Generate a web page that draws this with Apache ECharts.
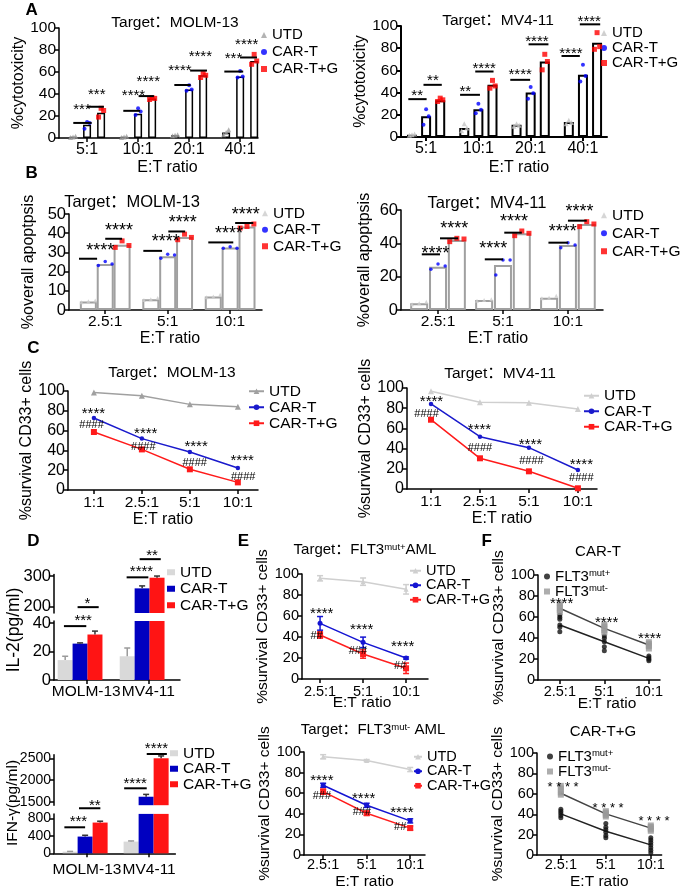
<!DOCTYPE html>
<html><head><meta charset="utf-8">
<script src="https://cdn.jsdelivr.net/npm/echarts@6/dist/echarts.min.js"></script>
<style>html,body{margin:0;padding:0;background:#fff}#c{width:685px;height:890px}</style>
</head><body><div id="c"></div>
<script>
// ================= DATA =================
// Panel A : %cytotoxicity
const A_cats = ['5:1', '10:1', '20:1', '40:1'];
const A1_UTD_mean = [1, 1, 2.5, 5];
const A1_CART_mean = [12, 22, 44, 56];
const A1_CARTG_mean = [23, 36, 57, 70];
const A1_UTD_pts = [[0.5, 1, 1.5], [0.5, 1, 1.5], [2, 2.5, 3], [3, 5, 7.5]];
const A1_CART_pts = [[8.5, 14.6, 13.7], [21, 27, 24], [43, 48, 44], [55, 61, 56]];
const A1_CARTG_pts = [[19, 27, 25], [35, 36.5, 36], [55, 59.5, 57], [67, 76, 70]];
const A1_sig = [
  [-0.27, 0.09, 13.7, -0.10, 29, '***'], [0.0, 0.33, 28.4, 0.19, 43, '***'],
  [0.71, 1.04, 24.7, 0.91, 42, '****'], [1.01, 1.31, 38.1, 1.20, 54.9, '****'],
  [1.71, 2.03, 48.2, 1.82, 64.3, '****'], [2.02, 2.35, 61.3, 2.22, 77.1, '****'],
  [2.69, 3.06, 60.4, 2.87, 75.6, '***'], [3.0, 3.33, 73.2, 3.13, 87.8, '****']];
const A2_UTD_mean = [2, 8, 11, 13.5];
const A2_CART_mean = [18.6, 25, 40, 56];
const A2_CARTG_mean = [33, 47, 68, 85];
const A2_UTD_pts = [[1.5, 2, 2.7], [5.7, 12, 8], [9.6, 12, 10.5], [12, 15, 13]];
const A2_CART_pts = [[11, 25, 18.6], [21.5, 30, 24.5], [34.4, 45, 39.5], [50, 65, 55]];
const A2_CARTG_pts = [[32, 35, 33.5], [44, 51, 46], [60.5, 74.5, 68], [79, 94, 81.4]];
const A2_sig = [
  [-0.34, 0.01, 34.1, -0.17, 40.1, '**'], [-0.05, 0.30, 47, 0.13, 53.9, '**'],
  [0.65, 1.03, 38, 0.75, 44, '**'], [0.94, 1.29, 59, 1.11, 65, '****'],
  [1.61, 1.99, 51.5, 1.80, 59, '****'], [1.96, 2.34, 83.5, 2.12, 88.9, '****'],
  [2.59, 2.94, 73, 2.77, 78.4, '****'], [2.94, 3.33, 101.5, 3.12, 106.9, '****']];

// Panel B : %overall apoptosis
const B_cats = ['2.5:1', '5:1', '10:1'];
const B1_UTD_mean = [4.4, 5.6, 7];
const B1_CART_mean = [24, 28, 32.5];
const B1_CARTG_mean = [34, 38, 43.5];
const B1_UTD_pts = [[4, 4.5, 5], [5.2, 5.6, 6.2], [6.6, 7, 8]];
const B1_CART_pts = [[23.2, 25.3, 24], [27, 29, 28.7], [32.2, 33, 32.2]];
const B1_CARTG_pts = [[32.6, 36, 33.6], [36.6, 39.5, 37.8], [42.7, 43.5, 44.8]];
const B1_sig = [
  [-0.42, -0.13, 26.7, -0.08, 33.1, '****'], [0, 0.27, 37.1, 0.22, 43.6, '****'],
  [0.61, 0.91, 30.8, 0.97, 37.5, '****'], [1.01, 1.28, 40.9, 1.24, 47.6, '****'],
  [1.65, 2.05, 35.2, 1.98, 41.8, '****'], [2.08, 2.37, 45.3, 2.25, 51.9, '****']];
const B2_UTD_mean = [4, 6, 7.4];
const B2_CART_mean = [26, 27, 39];
const B2_CARTG_mean = [42, 46, 51.6];
const B2_UTD_pts = [[3.5, 4, 5], [5.5, 6, 6.5], [7, 7.4, 8.5]];
const B2_CART_pts = [[24.4, 27.6, 26.4], [21, 30, 30], [37.4, 40.4, 39]];
const B2_CARTG_pts = [[41, 43, 42.6], [44.6, 47.4, 46], [50, 53, 51.6]];
const B2_sig = [
  [-0.25, 0.03, 33.4, -0.04, 36, '****'], [0.03, 0.31, 43, 0.25, 51.4, '****'],
  [0.72, 1.0, 30.4, 0.85, 39, '****'], [1.02, 1.29, 46.4, 1.17, 55.6, '****'],
  [1.70, 2.0, 40.4, 1.92, 49.4, '****'], [2.0, 2.29, 53.6, 2.18, 61.4, '****']];

// Panel C : %survival CD33+ cells
const C_cats = ['1:1', '2.5:1', '5:1', '10:1'];
const C1_UTD = [98.5, 95.3, 86.5, 84.2];
const C1_CART = [72.7, 51.9, 38.4, 22.2];
const C1_CARTG = [58.6, 41, 20.9, 7.7];
const C1_anno = [[-0.01, 80.8, '****'], [1.08, 60.6, '****'], [2.13, 47.1, '****'], [3.09, 33.7, '****'],
  [-0.05, 65.7, '####'], [1.03, 43.4, '####'], [2.10, 27.6, '####'], [3.11, 13.5, '####']];
const C2_UTD = [96.7, 85.8, 85.5, 79.2];
const C2_CART = [84.2, 51.8, 40.9, 18.8];
const C2_CARTG = [68.6, 30.4, 17.5, 0.7];
const C2_anno = [[0.01, 90.1, '****'], [0.99, 62, '****'], [2.03, 47.2, '****'], [3.07, 27.4, '****'],
  [-0.09, 74.6, '####'], [1.0, 40.6, '####'], [2.05, 27.4, '####'], [3.07, 10.9, '####']];

// Panel D : cytokines (broken axes)
const D_cats = ['MOLM-13', 'MV4-11'];
const D1_UTD = [14, 16.7], D1_UTD_sd = [2.7, 5.8];
const D1_CART = [25.6, 260], D1_CART_sd = [0.5, 8];
const D1_CARTG = [32, 294.6], D1_CARTG_sd = [2.4, 5.4];
const D1_sig_low = [[-0.26, 0.10, 37.9, 0.05, 44.4, '***']];
const D1_sig_high = [[-0.04, 0.30, 199, 0.12, 222.6, '*'], [0.75, 1.10, 295.8, 0.99, 324.7, '****'], [0.96, 1.30, 354.8, 1.16, 378.5, '**']];
const D2_UTD = [38, 267], D2_UTD_sd = [5, 15];
const D2_CART = [382, 1615], D2_CART_sd = [30, 54];
const D2_CARTG = [702, 2500], D2_CARTG_sd = [31, 54];
const D2_sig_low = [[-0.34, 0, 594, -0.11, 800, '***'], [-0.1, 0.25, 1029, 0.16, 1180, '**']];
const D2_sig_high = [[0.64, 1.01, 1809, 0.82, 2000, '****'], [1.01, 1.34, 2599, 1.17, 2806, '****']];

// Panel E : primary AML
const E_cats = ['2.5:1', '5:1', '10:1'];
const E1_UTD = [95.9, 92.7, 85.4], E1_UTD_sd = [2.5, 3.5, 4.5];
const E1_CART = [53, 34.9, 20], E1_CART_sd = [6.5, 5, 1];
const E1_CARTG = [41.9, 23.8, 10.2], E1_CARTG_sd = [3, 4, 5];
const E1_anno = [[0.04, 65.7, '****'], [0.97, 50.5, '****'], [1.92, 34, '****'], [-0.08, 41, '##'], [0.88, 27, '###'], [1.86, 12.7, '##']];
const E2_UTD = [95.4, 91.7, 83], E2_UTD_sd = [2, 1, 2];
const E2_CART = [67.7, 48.3, 33.2], E2_CART_sd = [2, 2, 2];
const E2_CARTG = [61.5, 40.6, 26.2], E2_CARTG_sd = [2.5, 2, 2];
const E2_anno = [[-0.03, 75.4, '****'], [0.93, 57.8, '****'], [1.81, 44.6, '****'], [-0.03, 57.8, '###'], [0.89, 41.5, '###'], [1.77, 27.7, '##']];

// Panel F : FLT3mut+ vs FLT3mut-
const F1_pos_mean = [52.4, 36.5, 20.6];
const F1_pos_pts = [[61.9, 59.7, 57.8, 52.4, 50.2, 46], [41.9, 39.7, 36.5, 31.7, 27.9], [22.9, 21.3, 19.7, 18.4]];
const F1_neg_mean = [68.3, 49.2, 33.3];
const F1_neg_pts = [[72.7, 70.8, 68.6, 66.3, 64.4], [53.3, 51.4, 49.2, 47, 45], [36.5, 34.9, 33.3, 31.7, 29.5]];
const F1_anno = [[0.04, 76.2, '****'], [1.05, 58.1, '****'], [2.02, 42.9, '****']];
const F2_pos_mean = [40.4, 23.3, 10];
const F2_pos_pts = [[45, 42.9, 41, 38.8, 36.6], [31, 27.3, 24.8, 22.4, 19.3, 17], [17, 14.9, 12.4, 9.9, 7.1, 4.7, 2.2]];
const F2_neg_mean = [60.6, 40.4, 26.4];
const F2_neg_pts = [[68.3, 65.8, 63.4, 60.9, 58.7], [43.5, 42, 40.4, 38.8, 37.3], [29.5, 28, 26.4, 24.8, 23.3]];
const F2_anno = [[0.05, 69.9, '* * * *'], [1.05, 49.1, '* * * *'], [2.07, 35.7, '* * * *']];

// ================= BUILDERS =================
const FF = "'Liberation Sans', Arial, 'Noto Sans CJK SC', sans-serif";
const grids = [], xAxis = [], yAxis = [], series = [], legend = [], graphic = [];
const font = (fs, b) => (b ? 'bold ' : '') + fs + 'px ' + FF;

function addGrid(o) {
  const gi = grids.length;
  const ls = {color: '#000', width: o.aw || 1.5};
  const xt = o.xt || [];
  grids.push({left: o.left, top: o.top, width: o.width, height: o.height});
  xAxis.push({gridIndex: gi, type: 'value', min: o.xmin, max: o.xmax, show: !o.noX,
    axisLine: {show: true, onZero: false, lineStyle: ls},
    axisTick: {show: true, length: 4, customValues: xt, lineStyle: ls},
    axisLabel: {show: true, customValues: xt, margin: o.xm, fontSize: o.xfs, color: '#000', fontFamily: FF,
      formatter: v => { const i = xt.findIndex(t => Math.abs(t - v) < 1e-6); return i < 0 ? '' : o.xl[i]; }},
    splitLine: {show: false},
    name: o.xname || '', nameLocation: 'middle', nameGap: o.xng || 20,
    nameTextStyle: {fontSize: o.xnfs || 16, color: '#000', fontFamily: FF, padding: o.xnpad || 0}});
  yAxis.push({gridIndex: gi, type: 'value', min: o.ymin, max: o.ymax,
    axisLine: {show: true, onZero: false, lineStyle: ls},
    axisTick: {show: true, length: 4, customValues: o.yt, lineStyle: ls},
    axisLabel: {show: true, customValues: o.yt, margin: o.ym, fontSize: o.yfs, color: '#000', fontFamily: FF,
      formatter: v => String(v)},
    splitLine: {show: false},
    name: o.yname || '', nameLocation: 'middle', nameGap: o.yng || 20,
    nameTextStyle: {fontSize: o.ynfs || 16, color: '#000', fontFamily: FF}});
  return gi;
}

function txtEl(text, x, y, fs) {
  return {type: 'text', x: x, y: y, silent: true,
    style: {text: text, font: font(fs), fill: '#000', align: 'center', verticalAlign: 'middle',
      textAlign: 'center', textVerticalAlign: 'middle'}};
}

function addSig(gi, arr, fs, lw) {
  series.push({type: 'custom', xAxisIndex: gi, yAxisIndex: gi, silent: true, z: 10, clip: false,
    data: arr.map(d => [d[0], d[2]]),
    renderItem: (p, api) => {
      const d = arr[p.dataIndex];
      const a = api.coord([d[0], d[2]]), b = api.coord([d[1], d[2]]), t = api.coord([d[3], d[4]]);
      return {type: 'group', children: [
        {type: 'line', shape: {x1: a[0], y1: a[1], x2: b[0], y2: b[1]}, style: {stroke: '#000', lineWidth: lw || 2}},
        txtEl(d[5], t[0], t[1] + 0.25 * fs, fs)]};
    }});
}

function addAnno(gi, arr, fsStar, fsHash) {
  series.push({type: 'custom', xAxisIndex: gi, yAxisIndex: gi, silent: true, z: 10, clip: false,
    data: arr.map(d => [d[0], d[1]]),
    renderItem: (p, api) => {
      const d = arr[p.dataIndex];
      const c = api.coord([d[0], d[1]]);
      const star = d[2].indexOf('*') >= 0;
      const fs = star ? fsStar : fsHash;
      return txtEl(d[2], c[0], c[1] + (star ? 0.25 * fs : 0), fs);
    }});
}

function addErr(gi, pts, color, cap, lw, upOnly) {
  series.push({type: 'custom', xAxisIndex: gi, yAxisIndex: gi, silent: true, z: 3, clip: false,
    data: pts,
    renderItem: (p, api) => {
      const x = api.value(0), m = api.value(1), s = api.value(2);
      const lo = api.coord([x, upOnly ? m : m - s]), hi = api.coord([x, m + s]);
      const st = {stroke: color, lineWidth: lw};
      const ch = [{type: 'line', shape: {x1: lo[0], y1: lo[1], x2: hi[0], y2: hi[1]}, style: st},
        {type: 'line', shape: {x1: hi[0] - cap, y1: hi[1], x2: hi[0] + cap, y2: hi[1]}, style: st}];
      if (!upOnly) ch.push({type: 'line', shape: {x1: lo[0] - cap, y1: lo[1], x2: lo[0] + cap, y2: lo[1]}, style: st});
      return {type: 'group', children: ch};
    }});
}

function addLegend(o) {
  legend.push({left: o.left, top: o.top, orient: 'vertical', padding: 0, itemGap: o.gap,
    itemWidth: o.iw, itemHeight: o.ih, selectedMode: false, data: o.data,
    formatter: o.fmt || (n => n.split('|')[0]),
    textStyle: {fontSize: o.fs, color: '#000', fontFamily: FF, rich: o.rich}});
}

function barPanel(o) {
  const gi = addGrid(o.grid);
  const data = [];
  o.means.forEach((m, j) => m.forEach((v, i) => data.push([i + o.offs[j], v])));
  series.push({type: 'bar', name: 'bars' + gi, xAxisIndex: gi, yAxisIndex: gi, barWidth: o.bw, silent: true, z: 2,
    itemStyle: {color: '#fff', borderColor: o.bc, borderWidth: o.bbw}, data: data});
  o.pts.forEach((p, j) => {
    series.push({type: 'scatter', name: o.names[j], xAxisIndex: gi, yAxisIndex: gi, symbol: o.sym[j],
      symbolSize: o.ss[j], silent: true, z: 4, itemStyle: {color: o.col[j]},
      data: p.flatMap((arr, i) => arr.map((v, k) => [i + o.offs[j] + o.jit[k], v]))});
  });
  addSig(gi, o.sig, o.sfs, o.slw);
  addLegend({left: o.lg[0], top: o.lg[1], gap: o.lg[2], iw: 6, ih: 6, fs: o.lfs,
    data: o.names.map((n, j) => ({name: n, icon: o.sym[j]}))});
}

function linePanel(o) {
  const gi = addGrid(o.grid);
  o.vals.forEach((v, j) => {
    series.push({type: 'line', name: o.names[j], xAxisIndex: gi, yAxisIndex: gi, symbol: o.sym[j],
      symbolSize: o.ss[j], silent: true, z: 4, itemStyle: {color: o.col[j]},
      lineStyle: {color: o.col[j], width: 1.5}, data: v.map((y, i) => [i, y])});
    if (o.sd) addErr(gi, v.map((y, i) => [i, y, o.sd[j][i]]), o.col[j], 3, 1.5, false);
  });
  addAnno(gi, o.anno, o.sfs, o.hfs);
  addLegend({left: o.lg[0], top: o.lg[1], gap: o.lg[2], iw: o.lg[3], ih: 7, fs: o.lfs, data: o.names});
}

function cytoPanel(o) {
  const lo = addGrid(o.low), hi = addGrid(o.high);
  const means = [o.u, o.c, o.g], sds = [o.us, o.cs, o.gs];
  means.forEach((m, j) => {
    series.push({type: 'bar', name: o.names[j], xAxisIndex: lo, yAxisIndex: lo, barWidth: o.bw, barGap: '-100%',
      silent: true, z: 2, itemStyle: {color: o.col[j]}, data: m.map((v, i) => [i + o.offs[j], v])});
    series.push({type: 'bar', name: 'top' + j + hi, xAxisIndex: hi, yAxisIndex: hi, barWidth: o.bw, barGap: '-100%',
      silent: true, z: 2, itemStyle: {color: o.col[j]},
      data: m.map((v, i) => [i + o.offs[j], v]).filter(d => d[1] > o.high.ymin)});
    const errs = m.map((v, i) => [i + o.offs[j], v, sds[j][i]]);
    addErr(lo, errs.filter(d => d[1] <= o.high.ymin), o.ecol[j], 3, 1.5, true);
    addErr(hi, errs.filter(d => d[1] > o.high.ymin), o.ecol[j], 3, 1.5, true);
  });
  addSig(lo, o.sigLow, o.sfs, 2);
  addSig(hi, o.sigHigh, o.sfs, 2);
  addLegend({left: o.lg[0], top: o.lg[1], gap: o.lg[2], iw: 8, ih: 6, fs: o.lfs,
    data: o.names.map(n => ({name: n, icon: 'rect'}))});
}

function fltPanel(o) {
  const gi = addGrid(o.grid);
  const groups = [[o.posPts, o.posMean, '#111', 'circle', 5, '#222'], [o.negPts, o.negMean, '#999999', 'rect', [6, 5], '#444']];
  groups.forEach((g, j) => {
    series.push({type: 'line', name: 'mean' + j + gi, xAxisIndex: gi, yAxisIndex: gi, symbol: 'none', silent: true, z: 3,
      lineStyle: {color: g[5], width: 1.5}, data: g[1].map((v, i) => [i, v])});
    series.push({type: 'scatter', name: o.names[j], xAxisIndex: gi, yAxisIndex: gi, symbol: g[3], symbolSize: g[4],
      silent: true, z: 4, itemStyle: {color: g[2]}, data: g[0].flatMap((arr, i) => arr.map(v => [i, v]))});
  });
  addAnno(gi, o.anno, o.sfs, 11);
  addLegend({left: o.lg[0], top: o.lg[1], gap: o.lg[2], iw: 6, ih: 6, fs: 15,
    data: [{name: o.names[0], icon: 'circle'}, {name: o.names[1], icon: 'rect'}],
    fmt: n => 'FLT3{s|' + (n.indexOf('+') >= 0 ? 'mut+' : 'mut-') + '}',
    rich: {s: {fontSize: 9.5, fontFamily: FF, verticalAlign: 'top', color: '#000'}}});
}

function gtext(text, x, y, fs, opt) {
  opt = opt || {};
  graphic.push({type: 'text', x: x, y: y, rotation: opt.rot || 0, silent: true,
    style: {text: text, font: font(fs, opt.bold), fill: '#000', align: 'center', verticalAlign: 'middle',
      textAlign: 'center', textVerticalAlign: 'middle', rich: opt.rich}});
}

// ================= PANELS =================
const grpNames = p => ['UTD|' + p, 'CAR-T|' + p, 'CAR-T+G|' + p];
const yTicks100 = [0, 20, 40, 60, 80, 100];

// A left
barPanel({grid: {left: 59, top: 28, width: 199, height: 110, xmin: -0.55, xmax: 3.35, ymin: 0, ymax: 100,
    yt: yTicks100, xt: [0, 1, 2, 3], xl: A_cats, xm: 4, xfs: 16, ym: 3, yfs: 15.5,
    xname: 'E:T ratio', xng: 22, xnpad: [0, 0, 0, 18], yname: '%cytotoxicity', yng: 22},
  means: [A1_UTD_mean, A1_CART_mean, A1_CARTG_mean], pts: [A1_UTD_pts, A1_CART_pts, A1_CARTG_pts],
  offs: [-0.275, 0, 0.275], jit: [-0.05, 0.0, 0.05], bw: 8, bc: '#000', bbw: 1.5,
  names: grpNames('A1'), sym: ['triangle', 'circle', 'rect'], ss: [5, 4, 5], col: ['#a0a0a0', '#0000ff', '#ff0000'],
  sig: A1_sig, sfs: 15, slw: 2, lg: [261, 27.5, 2], lfs: 15});
// A right
barPanel({grid: {left: 401, top: 26, width: 206, height: 111, xmin: -0.48, xmax: 3.46, ymin: 0, ymax: 100,
    yt: yTicks100, xt: [0, 1, 2, 3], xl: A_cats, xm: 4, xfs: 16, ym: 3, yfs: 15.5, aw: 2,
    xname: 'E:T ratio', xng: 23, xnpad: [0, 0, 0, 30], yname: '%cytotoxicity', yng: 25},
  means: [A2_UTD_mean, A2_CART_mean, A2_CARTG_mean], pts: [A2_UTD_pts, A2_CART_pts, A2_CARTG_pts],
  offs: [-0.27, 0, 0.27], jit: [-0.05, 0.0, 0.05], bw: 10, bc: '#000', bbw: 2,
  names: grpNames('A2'), sym: ['triangle', 'circle', 'rect'], ss: [5, 4, 5], col: ['#c4c4c4', '#0000ff', '#ff0000'],
  sig: A2_sig, sfs: 15, slw: 2, lg: [601, 25.5, 0], lfs: 15});
// B left
barPanel({grid: {left: 69, top: 214, width: 193, height: 96, xmin: -0.58, xmax: 2.51, ymin: 0, ymax: 50,
    yt: [0, 10, 20, 30, 40, 50], xt: [0, 1, 2], xl: B_cats, xm: 4, xfs: 15.5, ym: 3, yfs: 16.5,
    xname: 'E:T ratio', xng: 18, xnpad: [0, 0, 0, 9], yname: '%overall apoptpsis', yng: 32},
  means: [B1_UTD_mean, B1_CART_mean, B1_CARTG_mean], pts: [B1_UTD_pts, B1_CART_pts, B1_CARTG_pts],
  offs: [-0.27, 0, 0.27], jit: [-0.11, 0.0, 0.11], bw: 17, bc: '#a0a0a0', bbw: 2,
  names: grpNames('B1'), sym: ['triangle', 'circle', 'rect'], ss: [4, 3.5, 5], col: ['#cccccc', '#0000ff', '#ff0000'],
  sig: B1_sig, sfs: 18, slw: 2, lg: [262, 205.5, 1], lfs: 15.5});
// B right
barPanel({grid: {left: 401, top: 210, width: 202, height: 100, xmin: -0.57, xmax: 2.54, ymin: 0, ymax: 60,
    yt: [0, 20, 40, 60], xt: [0, 1, 2], xl: B_cats, xm: 4, xfs: 15.5, ym: 3, yfs: 16.5,
    xname: 'E:T ratio', xng: 18, xnpad: [0, 8, 0, 0], yname: '%overall apoptpsis', yng: 28},
  means: [B2_UTD_mean, B2_CART_mean, B2_CARTG_mean], pts: [B2_UTD_pts, B2_CART_pts, B2_CARTG_pts],
  offs: [-0.29, 0, 0.29], jit: [-0.11, 0.0, 0.11], bw: 18, bc: '#a0a0a0', bbw: 2,
  names: grpNames('B2'), sym: ['triangle', 'circle', 'rect'], ss: [4, 3.5, 5], col: ['#cccccc', '#0000ff', '#ff0000'],
  sig: B2_sig, sfs: 18, slw: 2, lg: [601, 207.5, 2.5], lfs: 15.5});
// C left
linePanel({grid: {left: 68, top: 391, width: 190, height: 99, xmin: -0.54, xmax: 3.42, ymin: 0, ymax: 100,
    yt: yTicks100, xt: [0, 1, 2, 3], xl: C_cats, xm: 5, xfs: 15.5, ym: 3, yfs: 16,
    xname: 'E:T ratio', xng: 21, yname: '%survival CD33+ cells', yng: 32},
  vals: [C1_UTD, C1_CART, C1_CARTG], names: grpNames('C1'), sym: ['triangle', 'circle', 'rect'], ss: [6, 4.5, 6],
  col: ['#a0a0a0', '#1a1acc', '#ff1a1a'], anno: C1_anno, sfs: 15, hfs: 11, lg: [248, 383.5, 0.5, 15], lfs: 15.5});
// C right
linePanel({grid: {left: 407, top: 388, width: 190, height: 101, xmin: -0.49, xmax: 3.39, ymin: 0, ymax: 100,
    yt: yTicks100, xt: [0, 1, 2, 3], xl: C_cats, xm: 5, xfs: 15.5, ym: 3, yfs: 16,
    xname: 'E:T ratio', xng: 21, yname: '%survival CD33+ cells', yng: 32},
  vals: [C2_UTD, C2_CART, C2_CARTG], names: grpNames('C2'), sym: ['triangle', 'circle', 'rect'], ss: [6, 4.5, 6],
  col: ['#cfcfcf', '#1a1acc', '#ff1a1a'], anno: C2_anno, sfs: 15, hfs: 11, lg: [583, 388, 0, 15], lfs: 15.5});
// D top (IL-2)
cytoPanel({low: {left: 54, top: 621, width: 126, height: 59, xmin: -0.42, xmax: 1.61, ymin: 0, ymax: 41.5,
    yt: [0, 20, 40], xt: [0.1, 1.1], xl: D_cats, xm: 4, xfs: 15.5, ym: 3, yfs: 16.5},
  high: {left: 54, top: 574.5, width: 126, height: 38.5, xmin: -0.42, xmax: 1.61, ymin: 180, ymax: 305,
    yt: [200, 300], noX: true, ym: 3, yfs: 16.5},
  u: D1_UTD, c: D1_CART, g: D1_CARTG, us: D1_UTD_sd, cs: D1_CART_sd, gs: D1_CARTG_sd,
  offs: [-0.24, 0, 0.24], bw: 15, names: grpNames('D1'), col: ['#d9d9d9', '#0000c0', '#ff1414'],
  ecol: ['#9a9a9a', '#333', '#333'], sigLow: D1_sig_low, sigHigh: D1_sig_high, sfs: 15, lg: [167, 564.5, 1], lfs: 15.5});
// D bottom (IFN-gamma)
cytoPanel({low: {left: 54, top: 813.9, width: 121.4, height: 39.4, xmin: -0.51, xmax: 1.48, ymin: 0, ymax: 900,
    yt: [0, 400, 800], xt: [0.03, 1.05], xl: D_cats, xm: 9, xfs: 15.5, ym: 3, yfs: 14},
  high: {left: 54, top: 754.8, width: 121.4, height: 50.4, xmin: -0.51, xmax: 1.48, ymin: 1420, ymax: 2580,
    yt: [1500, 2000, 2500], noX: true, ym: 3, yfs: 14},
  u: D2_UTD, c: D2_CART, g: D2_CARTG, us: D2_UTD_sd, cs: D2_CART_sd, gs: D2_CARTG_sd,
  offs: [-0.246, 0, 0.246], bw: 15, names: grpNames('D2'), col: ['#d9d9d9', '#0000c0', '#ff1414'],
  ecol: ['#9a9a9a', '#333', '#333'], sigLow: D2_sig_low, sigHigh: D2_sig_high, sfs: 15, lg: [170, 745.5, 0], lfs: 15.5});
// E top
linePanel({grid: {left: 302, top: 574, width: 126, height: 105, xmin: -0.42, xmax: 2.51, ymin: 0, ymax: 100,
    yt: yTicks100, xt: [0, 1, 2], xl: E_cats, xm: 6, xfs: 14.5, ym: 3, yfs: 14.5,
    xname: '', yname: '%survival CD33+ cells', yng: 26, ynfs: 15.5},
  vals: [E1_UTD, E1_CART, E1_CARTG], sd: [E1_UTD_sd, E1_CART_sd, E1_CARTG_sd], names: grpNames('E1'),
  sym: ['triangle', 'circle', 'rect'], ss: [5, 5, 6], col: ['#cfcfcf', '#1414d2', '#ff2020'],
  anno: E1_anno, sfs: 15, hfs: 11, lg: [409, 563.5, 0, 11], lfs: 14.5});
// E bottom
linePanel({grid: {left: 304, top: 752, width: 121, height: 108, xmin: -0.44, xmax: 2.34, ymin: 0, ymax: 100,
    yt: yTicks100, xt: [0, 1, 2], xl: E_cats, xm: 3, xfs: 14.5, ym: 3, yfs: 14.5,
    xname: 'E:T ratio', xng: 15, xnfs: 15.5, yname: '%survival CD33+ cells', yng: 28, ynfs: 15.5},
  vals: [E2_UTD, E2_CART, E2_CARTG], sd: [E2_UTD_sd, E2_CART_sd, E2_CARTG_sd], names: grpNames('E2'),
  sym: ['triangle', 'circle', 'rect'], ss: [5, 5, 6], col: ['#cfcfcf', '#1414d2', '#ff2020'],
  anno: E2_anno, sfs: 15, hfs: 11, lg: [413, 749.5, 0, 8], lfs: 14.5});
// F top
fltPanel({grid: {left: 538, top: 575, width: 122, height: 105, xmin: -0.49, xmax: 2.25, ymin: 0, ymax: 100,
    yt: yTicks100, xt: [0, 1, 2], xl: E_cats, xm: 5, xfs: 14.5, ym: 3, yfs: 14.5,
    xname: '', yname: '%survival CD33+ cells', yng: 27, ynfs: 15.5},
  posPts: F1_pos_pts, posMean: F1_pos_mean, negPts: F1_neg_pts, negMean: F1_neg_mean,
  names: ['FLT3mut+|F1', 'FLT3mut-|F1'], anno: F1_anno, sfs: 15, lg: [544, 569, 0]});
// F bottom
fltPanel({grid: {left: 537, top: 753, width: 124.6, height: 107, xmin: -0.53, xmax: 2.24, ymin: 0, ymax: 100,
    yt: yTicks100, xt: [0, 1, 2], xl: E_cats, xm: 3, xfs: 14.5, ym: 3, yfs: 14.5,
    xname: 'E:T ratio', xng: 15, xnfs: 15.5, yname: '%survival CD33+ cells', yng: 24, ynfs: 15.5},
  posPts: F2_pos_pts, posMean: F2_pos_mean, negPts: F2_neg_pts, negMean: F2_neg_mean,
  names: ['FLT3mut+|F2', 'FLT3mut-|F2'], anno: F2_anno, sfs: 13, lg: [547, 749, 0]});

// ================= TEXT =================
[['A', 31.7, 10], ['B', 31.7, 173.3], ['C', 33.3, 348.3], ['D', 33.3, 541.7], ['E', 243.3, 541.7], ['F', 486.7, 541.7]]
  .forEach(l => gtext(l[0], l[1], l[2], 17, {bold: true}));
gtext('Target：MOLM-13', 175, 23, 15.5);
gtext('Target：MV4-11', 498, 21, 15.5);
gtext('Target：MOLM-13', 132, 202, 16.5);
gtext('Target：MV4-11', 487, 203, 16.5);
gtext('Target：MOLM-13', 172, 373, 15.5);
gtext('Target：MV4-11', 500, 374, 15.5);
const supRich = {s: {fontSize: 9.5, fontFamily: FF, verticalAlign: 'top', fill: '#000', color: '#000'}};
gtext('Target：FLT3{s|mut+}AML', 365, 550, 15, {rich: supRich});
gtext('Target：FLT3{s|mut-} AML', 373, 730, 15, {rich: supRich});
gtext('CAR-T', 598, 552, 15);
gtext('CAR-T+G', 603, 732, 15);
gtext('IL-2(pg/ml)', 14, 630, 17.5, {rot: Math.PI / 2});
gtext('IFN-γ(pg/ml)', 13, 803, 15.5, {rot: Math.PI / 2});
gtext('E:T ratio', 362, 703, 15.5);
gtext('E:T ratio', 607, 704, 15.5);

const chart = echarts.init(document.getElementById('c'), null, {renderer: 'canvas'});
chart.setOption({animation: false, backgroundColor: '#fff', grid: grids, xAxis: xAxis, yAxis: yAxis,
  series: series, legend: legend, graphic: graphic});
</script></body></html>
